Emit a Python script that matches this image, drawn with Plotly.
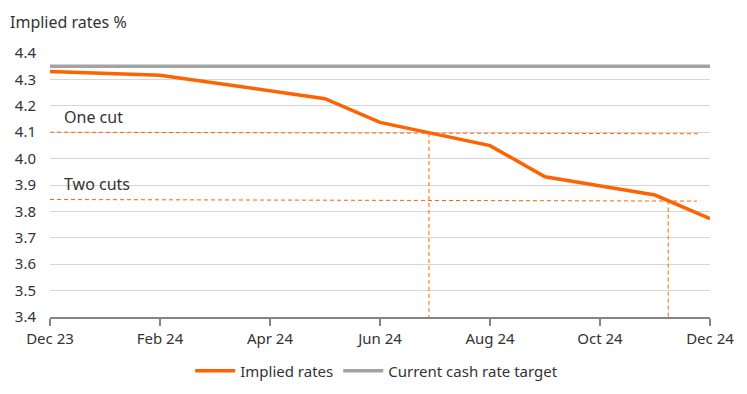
import plotly.graph_objects as go

# Month index: 0 = Dec 23 ... 12 = Dec 24
tick_positions = [0, 2, 4, 6, 8, 10, 12]
tick_labels = ["Dec 23", "Feb 24", "Apr 24", "Jun 24", "Aug 24", "Oct 24", "Dec 24"]

implied_x = [0, 2, 5, 6, 8, 9, 11, 12]
implied_rates = [4.33, 4.316, 4.227, 4.137, 4.049, 3.931, 3.862, 3.773]

cash_x = [0, 12]
cash_rate = [4.35, 4.35]

one_cut_x = [0, 11.82]
one_cut_y = [4.100, 4.094]
one_cut_vx = [6.89, 6.89]
one_cut_vy = [4.097, 3.4]

two_cut_x = [0, 11.76]
two_cut_y = [3.845, 3.839]
two_cut_vx = [11.24, 11.24]
two_cut_vy = [3.841, 3.4]

ORANGE = "#FF6200"
GREY = "#A3A3A3"
TEXT = "#333333"
FONT = "Noto Sans"

fig = go.Figure()

dash_style = dict(color=ORANGE, width=1, dash="4px,3px")
for xs, ys in [(one_cut_x, one_cut_y), (one_cut_vx, one_cut_vy),
               (two_cut_x, two_cut_y), (two_cut_vx, two_cut_vy)]:
    fig.add_trace(go.Scatter(x=xs, y=ys, mode="lines", line=dash_style,
                             showlegend=False, hoverinfo="skip"))

fig.add_trace(go.Scatter(x=implied_x, y=implied_rates, mode="lines",
                         name="Implied rates", line=dict(color=ORANGE, width=3.5)))
fig.add_trace(go.Scatter(x=cash_x, y=cash_rate, mode="lines",
                         name="Current cash rate target", line=dict(color=GREY, width=3.5)))

fig.add_annotation(x=0.22, y=4.158, xref="x", yref="y", text="One cut", showarrow=False,
                   xanchor="left", yanchor="middle", font=dict(size=16, color=TEXT, family=FONT))
fig.add_annotation(x=0.22, y=3.904, xref="x", yref="y", text="Two cuts", showarrow=False,
                   xanchor="left", yanchor="middle", font=dict(size=16, color=TEXT, family=FONT))
fig.add_annotation(x=0, y=1, xref="paper", yref="paper", xshift=-42, yshift=31,
                   text="Implied rates %", showarrow=False, xanchor="left", yanchor="middle",
                   font=dict(size=16, color=TEXT, family=FONT))

fig.update_layout(
    width=739, height=386,
    margin=dict(l=42, r=37, t=45, b=77, autoexpand=False),
    paper_bgcolor="white", plot_bgcolor="white",
    font=dict(family=FONT, size=15, color=TEXT),
    legend=dict(orientation="h", x=0.495, xanchor="center", y=-0.205, yanchor="middle",
                font=dict(size=15, color=TEXT, family=FONT), itemwidth=40),
    xaxis=dict(range=[0, 12], tickmode="array", tickvals=tick_positions, ticktext=tick_labels,
               showgrid=False, zeroline=False, showline=True, linecolor="#858585", linewidth=1.5,
               ticks="outside", ticklen=7, tickcolor="#858585", tickwidth=1.5,
               tickfont=dict(size=15, color=TEXT, family=FONT)),
    yaxis=dict(range=[3.4, 4.4], dtick=0.1, tick0=3.4, tickformat=".1f",
               showgrid=True, gridcolor="#D6D6D6", gridwidth=1, zeroline=False, showline=False,
               ticks="", ticklabelstandoff=13,
               tickfont=dict(size=15, color=TEXT, family=FONT)),
)

fig.write_html("out.html")
